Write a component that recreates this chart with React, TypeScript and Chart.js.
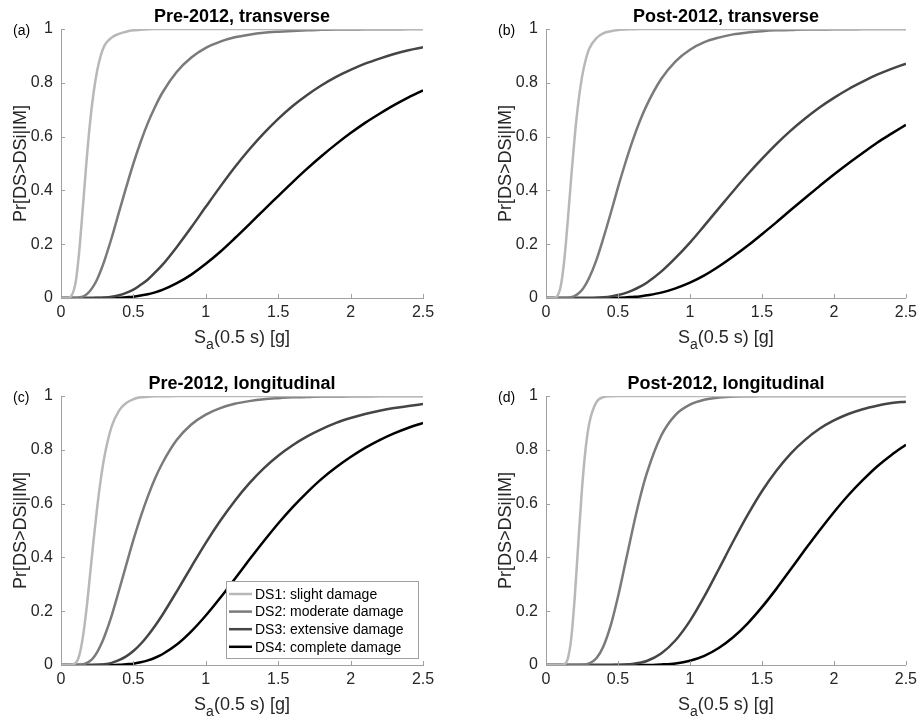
import React, { useEffect, useRef } from "react";
import { Chart, registerables } from "chart.js";

Chart.register(...registerables);

// ---------------- data ----------------
const X_GRID = [
  0, 0.05, 0.1, 0.125, 0.15, 0.175, 0.2, 0.225, 0.25, 0.275, 0.3, 0.35, 0.4,
  0.45, 0.5, 0.55, 0.6, 0.65, 0.7, 0.8, 0.9, 1.0, 1.1, 1.2, 1.3, 1.4, 1.5, 1.6,
  1.7, 1.8, 1.9, 2.0, 2.1, 2.2, 2.3, 2.4, 2.5,
];

const X_TICKS = [0, 0.5, 1, 1.5, 2, 2.5];
const Y_TICKS = [0, 0.2, 0.4, 0.6, 0.8, 1];

const SERIES_LABELS = [
  "DS1: slight damage",
  "DS2: moderate damage",
  "DS3: extensive damage",
  "DS4: complete damage",
];

const PANEL_TAGS = ["(a)", "(b)", "(c)", "(d)"];
const PANEL_TITLES = [
  "Pre-2012, transverse",
  "Post-2012, transverse",
  "Pre-2012, longitudinal",
  "Post-2012, longitudinal",
];

// (a) Pre-2012, transverse
const PRE_TRANS_DS1 = [0, 0, 0.055, 0.169, 0.33, 0.5, 0.649, 0.763, 0.846, 0.902, 0.938, 0.968, 0.982, 0.99, 0.995, 0.997, 0.999, 1, 1, 1, 1, 1, 1, 1, 1, 1, 1, 1, 1, 1, 1, 1, 1, 1, 1, 1, 1];
const PRE_TRANS_DS2 = [0, 0, 0, 0.002, 0.005, 0.013, 0.026, 0.045, 0.07, 0.102, 0.139, 0.224, 0.318, 0.411, 0.5, 0.58, 0.651, 0.711, 0.763, 0.841, 0.894, 0.93, 0.953, 0.969, 0.979, 0.986, 0.99, 0.993, 0.995, 0.997, 0.998, 0.998, 0.999, 0.999, 0.999, 1, 1];
const PRE_TRANS_DS3 = [0, 0, 0, 0, 0, 0, 0, 0, 0.001, 0.001, 0.002, 0.005, 0.01, 0.019, 0.031, 0.049, 0.069, 0.095, 0.123, 0.19, 0.263, 0.339, 0.414, 0.486, 0.552, 0.612, 0.666, 0.714, 0.755, 0.791, 0.822, 0.848, 0.871, 0.89, 0.907, 0.921, 0.932];
const PRE_TRANS_DS4 = [0, 0, 0, 0, 0, 0, 0, 0, 0, 0, 0, 0.0005, 0.001, 0.003, 0.005, 0.009, 0.014, 0.021, 0.03, 0.055, 0.087, 0.127, 0.172, 0.222, 0.274, 0.327, 0.379, 0.431, 0.481, 0.528, 0.572, 0.613, 0.651, 0.685, 0.717, 0.746, 0.772];

// (b) Post-2012, transverse
const POST_TRANS_DS1 = [0, 0, 0.038, 0.131, 0.279, 0.447, 0.603, 0.728, 0.821, 0.884, 0.927, 0.966, 0.985, 0.992, 0.996, 0.998, 0.999, 1, 1, 1, 1, 1, 1, 1, 1, 1, 1, 1, 1, 1, 1, 1, 1, 1, 1, 1, 1];
const POST_TRANS_DS2 = [0, 0, 0, 0, 0.001, 0.003, 0.008, 0.017, 0.03, 0.05, 0.075, 0.141, 0.225, 0.316, 0.411, 0.5, 0.582, 0.655, 0.717, 0.814, 0.88, 0.923, 0.951, 0.968, 0.98, 0.987, 0.992, 0.995, 0.996, 0.998, 0.998, 0.999, 0.999, 1, 1, 1, 1];
const POST_TRANS_DS3 = [0, 0, 0, 0, 0, 0, 0, 0, 0, 0, 0, 0.001, 0.003, 0.006, 0.011, 0.018, 0.028, 0.041, 0.057, 0.098, 0.149, 0.206, 0.269, 0.333, 0.397, 0.459, 0.517, 0.572, 0.622, 0.667, 0.708, 0.744, 0.776, 0.804, 0.83, 0.852, 0.871];
const POST_TRANS_DS4 = [0, 0, 0, 0, 0, 0, 0, 0, 0, 0, 0, 0, 0, 0, 0.001, 0.002, 0.004, 0.006, 0.01, 0.02, 0.036, 0.057, 0.084, 0.117, 0.154, 0.194, 0.237, 0.281, 0.327, 0.372, 0.416, 0.459, 0.5, 0.539, 0.577, 0.611, 0.644];

// (c) Pre-2012, longitudinal
const PRE_LONG_DS1 = [0, 0, 0.007, 0.034, 0.1, 0.203, 0.332, 0.464, 0.587, 0.691, 0.775, 0.887, 0.945, 0.974, 0.988, 0.995, 0.997, 0.999, 0.999, 1, 1, 1, 1, 1, 1, 1, 1, 1, 1, 1, 1, 1, 1, 1, 1, 1, 1];
const PRE_LONG_DS2 = [0, 0, 0, 0.001, 0.002, 0.007, 0.015, 0.028, 0.048, 0.074, 0.106, 0.184, 0.276, 0.371, 0.465, 0.551, 0.627, 0.694, 0.75, 0.837, 0.894, 0.931, 0.955, 0.971, 0.981, 0.988, 0.992, 0.995, 0.996, 0.998, 0.998, 0.999, 0.999, 1, 1, 1, 1];
const PRE_LONG_DS3 = [0, 0, 0, 0, 0, 0, 0, 0, 0.001, 0.002, 0.003, 0.008, 0.018, 0.032, 0.052, 0.078, 0.11, 0.146, 0.186, 0.274, 0.365, 0.454, 0.536, 0.61, 0.675, 0.731, 0.778, 0.817, 0.85, 0.877, 0.9, 0.918, 0.933, 0.945, 0.955, 0.963, 0.97];
const PRE_LONG_DS4 = [0, 0, 0, 0, 0, 0, 0, 0, 0, 0, 0, 0, 0.001, 0.003, 0.005, 0.01, 0.017, 0.027, 0.04, 0.076, 0.125, 0.184, 0.25, 0.32, 0.391, 0.46, 0.526, 0.587, 0.642, 0.692, 0.735, 0.773, 0.807, 0.836, 0.861, 0.882, 0.9];

// (d) Post-2012, longitudinal
const POST_LONG_DS1 = [0, 0, 0, 0.002, 0.021, 0.097, 0.254, 0.458, 0.655, 0.803, 0.897, 0.977, 0.996, 0.999, 1, 1, 1, 1, 1, 1, 1, 1, 1, 1, 1, 1, 1, 1, 1, 1, 1, 1, 1, 1, 1, 1, 1];
const POST_LONG_DS2 = [0, 0, 0, 0, 0, 0, 0, 0, 0.001, 0.002, 0.006, 0.025, 0.071, 0.148, 0.254, 0.376, 0.5, 0.615, 0.712, 0.852, 0.93, 0.968, 0.986, 0.994, 0.998, 0.999, 1, 1, 1, 1, 1, 1, 1, 1, 1, 1, 1];
const POST_LONG_DS3 = [0, 0, 0, 0, 0, 0, 0, 0, 0, 0, 0, 0, 0, 0, 0.001, 0.002, 0.004, 0.008, 0.015, 0.043, 0.092, 0.164, 0.255, 0.356, 0.459, 0.557, 0.646, 0.722, 0.786, 0.837, 0.878, 0.909, 0.933, 0.951, 0.964, 0.974, 0.979];
const POST_LONG_DS4 = [0, 0, 0, 0, 0, 0, 0, 0, 0, 0, 0, 0, 0, 0, 0, 0, 0, 0, 0, 0.002, 0.006, 0.016, 0.034, 0.063, 0.103, 0.154, 0.215, 0.283, 0.356, 0.429, 0.5, 0.568, 0.631, 0.687, 0.738, 0.781, 0.819];

// ---------------- styling ----------------
const FONT = "'Liberation Sans', Arial, Helvetica, sans-serif";
const SERIES_COLORS = ["#b8b8b8", "#7a7a7a", "#454545", "#000000"];
const AXIS_COLOR = "#a0a0a0";
const TEXT_COLOR = "#262626";

type PanelDef = {
  tag: string;
  title: string;
  series: number[][];
  legend: boolean;
  left: number;
  top: number;
  width: number;
  height: number;
  areaLeft: number;
  areaRight: number;
  areaTop: number;
  areaBottom: number;
};

const PANELS: PanelDef[] = [
  { tag: PANEL_TAGS[0], title: PANEL_TITLES[0], series: [PRE_TRANS_DS1, PRE_TRANS_DS2, PRE_TRANS_DS3, PRE_TRANS_DS4], legend: false, left: 0, top: 0, width: 461, height: 360, areaLeft: 61, areaRight: 423, areaTop: 29, areaBottom: 298 },
  { tag: PANEL_TAGS[1], title: PANEL_TITLES[1], series: [POST_TRANS_DS1, POST_TRANS_DS2, POST_TRANS_DS3, POST_TRANS_DS4], legend: false, left: 461, top: 0, width: 461, height: 360, areaLeft: 85, areaRight: 447, areaTop: 29, areaBottom: 298 },
  { tag: PANEL_TAGS[2], title: PANEL_TITLES[2], series: [PRE_LONG_DS1, PRE_LONG_DS2, PRE_LONG_DS3, PRE_LONG_DS4], legend: true, left: 0, top: 367, width: 461, height: 354, areaLeft: 61, areaRight: 423, areaTop: 29, areaBottom: 298 },
  { tag: PANEL_TAGS[3], title: PANEL_TITLES[3], series: [POST_LONG_DS1, POST_LONG_DS2, POST_LONG_DS3, POST_LONG_DS4], legend: false, left: 461, top: 367, width: 461, height: 354, areaLeft: 85, areaRight: 447, areaTop: 29, areaBottom: 298 },
];

function makeDecor(p: PanelDef) {
  return {
    id: "panelDecor",
    afterDraw(chart: any) {
      const ctx = chart.ctx as CanvasRenderingContext2D;
      const a = chart.chartArea;
      const xs = chart.scales.x;
      const ys = chart.scales.y;
      ctx.save();

      // inward tick marks
      ctx.strokeStyle = AXIS_COLOR;
      ctx.lineWidth = 1;
      ctx.beginPath();
      X_TICKS.forEach((v) => {
        const px = Math.round(xs.getPixelForValue(v)) + 0.5;
        ctx.moveTo(px, a.bottom);
        ctx.lineTo(px, a.bottom - 4);
      });
      Y_TICKS.forEach((v) => {
        const py = Math.round(ys.getPixelForValue(v)) + 0.5;
        ctx.moveTo(a.left, py);
        ctx.lineTo(a.left + 4, py);
      });
      ctx.stroke();

      const cx = (a.left + a.right) / 2;
      const cy = (a.top + a.bottom) / 2;

      // title
      ctx.fillStyle = "#000";
      ctx.font = `bold 18px ${FONT}`;
      ctx.textAlign = "center";
      ctx.textBaseline = "middle";
      ctx.fillText(p.title, cx, a.top - 12);

      // panel tag
      ctx.fillStyle = "#000";
      ctx.font = `14px ${FONT}`;
      ctx.textAlign = "left";
      ctx.textBaseline = "middle";
      ctx.fillText(p.tag, a.left - 48, a.top + 2);

      // x axis label with subscript
      ctx.fillStyle = TEXT_COLOR;
      ctx.textBaseline = "alphabetic";
      ctx.font = `18px ${FONT}`;
      const wS = ctx.measureText("S").width;
      const wRest = ctx.measureText("(0.5 s) [g]").width;
      ctx.font = `14px ${FONT}`;
      const wSub = ctx.measureText("a").width;
      const total = wS + wSub + wRest;
      const x0 = cx - total / 2;
      const base = a.bottom + 45;
      ctx.font = `18px ${FONT}`;
      ctx.fillText("S", x0, base);
      ctx.font = `14px ${FONT}`;
      ctx.fillText("a", x0 + wS, base + 6);
      ctx.font = `18px ${FONT}`;
      ctx.fillText("(0.5 s) [g]", x0 + wS + wSub, base);

      // y axis label
      ctx.save();
      ctx.translate(a.left - 40, cy);
      ctx.rotate(-Math.PI / 2);
      ctx.textAlign = "center";
      ctx.textBaseline = "middle";
      ctx.font = `18px ${FONT}`;
      ctx.fillText("Pr[DS>DSi|IM]", 0, 0);
      ctx.restore();

      // legend
      if (p.legend) {
        const bw = 192;
        const bh = 77;
        const bx = a.right - 5 - bw;
        const by = a.bottom - 7 - bh;
        ctx.fillStyle = "#ffffff";
        ctx.fillRect(bx, by, bw, bh);
        ctx.strokeStyle = AXIS_COLOR;
        ctx.lineWidth = 1;
        ctx.strokeRect(Math.round(bx) + 0.5, Math.round(by) + 0.5, bw, bh);
        chart.data.datasets.forEach((ds: any, i: number) => {
          const ry = by + 13 + i * 17.6;
          ctx.strokeStyle = ds.borderColor;
          ctx.lineWidth = 2.5;
          ctx.beginPath();
          ctx.moveTo(bx + 3, ry);
          ctx.lineTo(bx + 26, ry);
          ctx.stroke();
          ctx.fillStyle = "#000";
          ctx.font = `14px ${FONT}`;
          ctx.textAlign = "left";
          ctx.textBaseline = "middle";
          ctx.fillText(ds.label, bx + 29, ry + 1);
        });
      }
      ctx.restore();
    },
  };
}

function Panel({ p }: { p: PanelDef }) {
  const ref = useRef<HTMLCanvasElement | null>(null);
  useEffect(() => {
    if (!ref.current) return;
    const datasets = p.series.map((ys, i) => ({
      label: SERIES_LABELS[i],
      data: X_GRID.map((x, j) => ({ x, y: ys[j] })),
      borderColor: SERIES_COLORS[i],
      backgroundColor: SERIES_COLORS[i],
      borderWidth: 2.5,
      pointRadius: 0,
      pointHoverRadius: 0,
      fill: false,
      cubicInterpolationMode: "monotone" as const,
    }));
    const chart = new Chart(ref.current, {
      type: "line",
      data: { datasets },
      options: {
        responsive: false,
        animation: false,
        events: [],
        layout: {
          padding: { left: 0, right: p.width - p.areaRight, top: p.areaTop, bottom: 0 },
        },
        plugins: {
          legend: { display: false },
          tooltip: { enabled: false },
          title: { display: false },
        },
        scales: {
          x: {
            type: "linear",
            min: 0,
            max: 2.5,
            afterBuildTicks: (axis: any) => {
              axis.ticks = X_TICKS.map((v) => ({ value: v }));
            },
            afterFit: (scale: any) => {
              scale.height = p.height - p.areaBottom;
            },
            ticks: {
              autoSkip: false,
              maxRotation: 0,
              padding: 5,
              color: TEXT_COLOR,
              font: { family: FONT, size: 16 },
              callback: (v: any) => String(v),
            },
            grid: { display: false, drawTicks: false },
            border: { display: true, color: AXIS_COLOR, width: 1 },
          },
          y: {
            type: "linear",
            min: 0,
            max: 1,
            afterBuildTicks: (axis: any) => {
              axis.ticks = Y_TICKS.map((v) => ({ value: v }));
            },
            afterFit: (scale: any) => {
              scale.width = p.areaLeft;
            },
            ticks: {
              autoSkip: false,
              padding: 8,
              color: TEXT_COLOR,
              font: { family: FONT, size: 16 },
              callback: (v: any) => String(v),
            },
            grid: { display: false, drawTicks: false },
            border: { display: true, color: AXIS_COLOR, width: 1 },
          },
        },
      } as any,
      plugins: [makeDecor(p)],
    });
    return () => chart.destroy();
  }, [p]);
  return (
    <canvas
      ref={ref}
      width={p.width}
      height={p.height}
      style={{ position: "absolute", left: p.left, top: p.top, width: p.width, height: p.height }}
    />
  );
}

export default function App() {
  return (
    <div
      style={{
        position: "fixed",
        left: 0,
        top: 0,
        width: 922,
        height: 721,
        background: "#ffffff",
        overflow: "hidden",
      }}
    >
      {PANELS.map((p) => (
        <Panel key={p.tag} p={p} />
      ))}
    </div>
  );
}
